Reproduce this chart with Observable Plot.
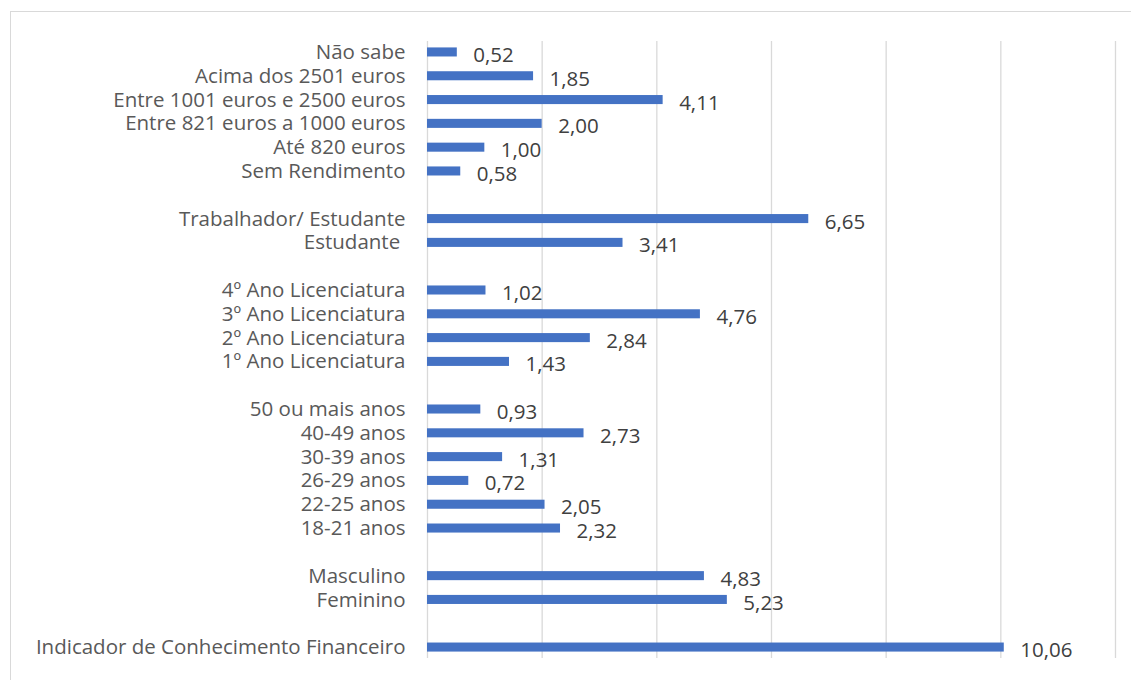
<!DOCTYPE html>
<html>
<head>
<meta charset="utf-8">
<script src="https://cdn.jsdelivr.net/npm/d3@7"></script>
<script src="https://cdn.jsdelivr.net/npm/@observablehq/plot@0.6"></script>
<style>
  html, body { margin: 0; padding: 0; background: #fff; }
  #wrap { position: relative; width: 1131px; height: 680px; overflow: hidden; }
  #border { position: absolute; left: 10px; top: 11px; width: 1200px; height: 800px;
            border-top: 1.5px solid #d9d9d9; border-left: 1.5px solid #d9d9d9; }
  #chart { position: absolute; left: 0; top: 0; }
</style>
</head>
<body>
<div id="wrap"><div id="border"></div><div id="chart"></div></div>
<script>
// Categories top to bottom; blank entries are the gaps between groups
const categories = [
  "Não sabe",
  "Acima dos 2501 euros",
  "Entre 1001 euros e 2500 euros",
  "Entre 821 euros a 1000 euros",
  "Até 820 euros",
  "Sem Rendimento",
  " ",
  "Trabalhador/ Estudante",
  "Estudante\u00a0",
  "  ",
  "4º Ano Licenciatura",
  "3º Ano Licenciatura",
  "2º Ano Licenciatura",
  "1º Ano Licenciatura",
  "   ",
  "50 ou mais anos",
  "40-49 anos",
  "30-39 anos",
  "26-29 anos",
  "22-25 anos",
  "18-21 anos",
  "    ",
  "Masculino",
  "Feminino",
  "     ",
  "Indicador de Conhecimento Financeiro"
];
const values = [
  0.52, 1.85, 4.11, 2.00, 1.00, 0.58,
  null,
  6.65, 3.41,
  null,
  1.02, 4.76, 2.84, 1.43,
  null,
  0.93, 2.73, 1.31, 0.72, 2.05, 2.32,
  null,
  4.83, 5.23,
  null,
  10.06
];
const gridTicks = [0, 2, 4, 6, 8, 10, 12];

const data = categories.map((c, i) => ({category: c, value: values[i]})).filter(d => d.value != null);
const fmt = v => v.toFixed(2).replace(".", ",");

const chart = Plot.plot({
  width: 1131,
  height: 680,
  marginLeft: 427,
  marginRight: 16,
  marginTop: 41,
  marginBottom: 22,
  style: {fontFamily: "'Open Sans', sans-serif", fontSize: "20.5px", color: "#595959", background: "transparent"},
  x: {domain: [0, 12], axis: null},
  y: {domain: categories, paddingInner: 0.62, paddingOuter: 0.27, round: false, label: null},
  marks: [
    Plot.ruleX(gridTicks, {stroke: "#d9d9d9", strokeWidth: 1.3, strokeOpacity: 1}),
    Plot.barX(data, {x: "value", y: "category", fill: "#4472C4"}),
    Plot.text(data, {x: "value", y: "category", text: d => fmt(d.value), textAnchor: "start", dx: 16, dy: 3, fill: "#404040"}),
    Plot.axisY({tickSize: 0, tickPadding: 22, label: null, fill: "#595959"})
  ]
});
document.getElementById("chart").appendChild(chart);
</script>
</body>
</html>
